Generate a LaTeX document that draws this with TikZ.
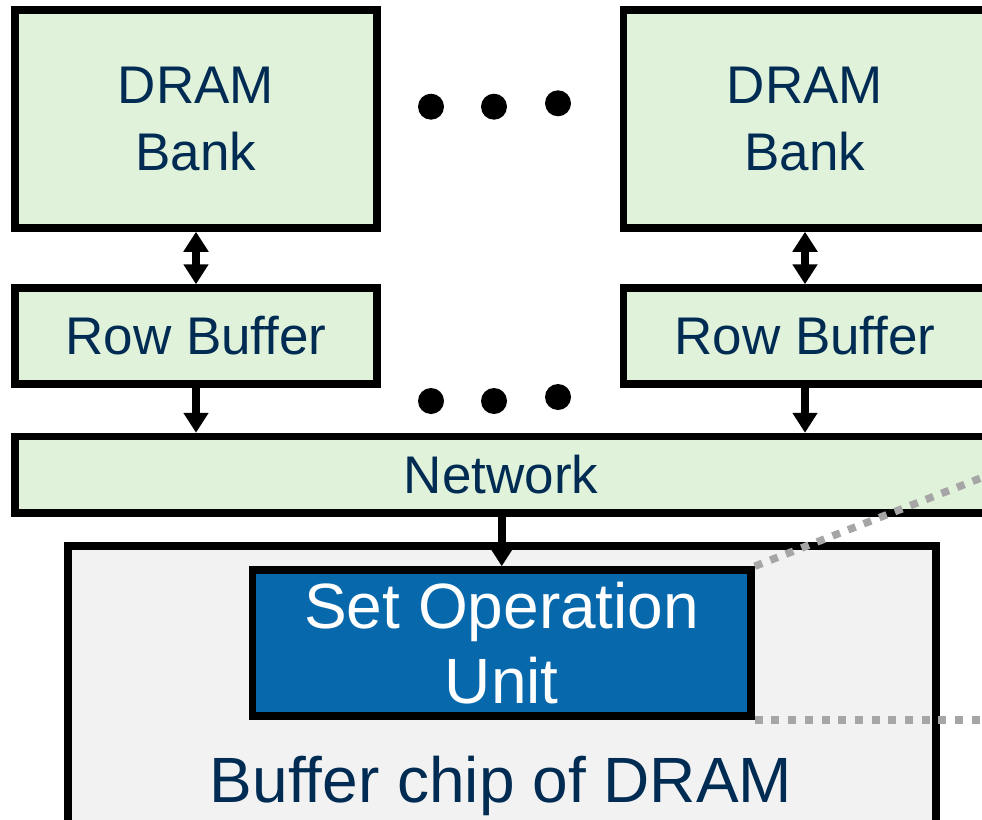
\documentclass[tikz,border=0pt]{standalone}
\usepackage{fontspec}
\setmainfont{Liberation Sans}
\usetikzlibrary{arrows.meta}
\definecolor{boxgreen}{HTML}{E0F2DA}
\definecolor{inktext}{HTML}{002B52}
\definecolor{unitblue}{HTML}{0868AC}
\definecolor{chipgray}{HTML}{F2F2F2}
\definecolor{linkgray}{HTML}{A6A6A6}

\begin{document}
\begin{tikzpicture}[x=1pt,y=-1pt,
  blk/.style={draw=black, line width=7.5pt, rectangle, inner sep=0pt, align=center, text=inktext},
  greenbox/.style={blk, fill=boxgreen, font=\fontsize{53}{67}\selectfont},
  bigfont/.style={font=\fontsize{64}{75}\selectfont},
  link/.style={line width=7.5pt, -{Triangle[width=24pt,length=20pt]}},
  duplex/.style={line width=7.5pt, {Triangle[width=24pt,length=20pt]}-{Triangle[width=24pt,length=20pt]}},
  zoomline/.style={draw=linkgray, line width=7.5pt, dash pattern=on 8pt off 8.7pt},
  blob/.style={circle, fill=black, inner sep=0pt, minimum size=26pt}]
\useasboundingbox (0,0) rectangle (982,819);
\clip (0,0) rectangle (982,819);

% memory banks and their row buffers
\node[greenbox, minimum width=362pt, minimum height=218pt] (bankL) at (196,119) {DRAM\\Bank};
\node[greenbox, minimum width=363pt, minimum height=218pt] (bankR) at (805,119) {DRAM\\Bank};
\node[greenbox, minimum width=362pt, minimum height=96pt] (rowL) at (196,336) {Row Buffer};
\node[greenbox, minimum width=363pt, minimum height=96pt] (rowR) at (805,336) {Row Buffer};

% interconnect
\node[greenbox, minimum width=972pt, minimum height=76.5pt] (net) at (501,474.75) {Network};

% buffer chip with the set operation unit
\node[blk, fill=chipgray, minimum width=868pt, minimum height=294pt] (chip) at (502,693) {};
\node[anchor=base, text=inktext, bigfont, inner sep=0pt] (chiplabel) at (501,802) {Buffer chip of DRAM};
\node[blk, fill=unitblue, text=white, bigfont, minimum width=498.5pt, minimum height=146pt] (sou) at (501.75,643) {Set Operation\\Unit};

% ellipsis dots
\node[blob] (d1) at (431,106.7) {};
\node[blob] (d2) at (494,106.7) {};
\node[blob] (d3) at (558,103.3) {};
\node[blob] (d4) at (431,401) {};
\node[blob] (d5) at (494,401) {};
\node[blob] (d6) at (558,397) {};

% data paths
\draw[duplex] (bankL.south) -- (rowL.north);
\draw[duplex] (bankR.south) -- (rowR.north);
\draw[link] (rowL.south) -- (rowL.south |- net.north);
\draw[link] (rowR.south) -- (rowR.south |- net.north);
\draw[link] (net.south -| sou.north) -- (sou.north);

% zoom-out guide lines
\draw[zoomline] (sou.north east) -- ++(400,-156);
\draw[zoomline] (sou.south east) -- ++(400,0);
\end{tikzpicture}
\end{document}
